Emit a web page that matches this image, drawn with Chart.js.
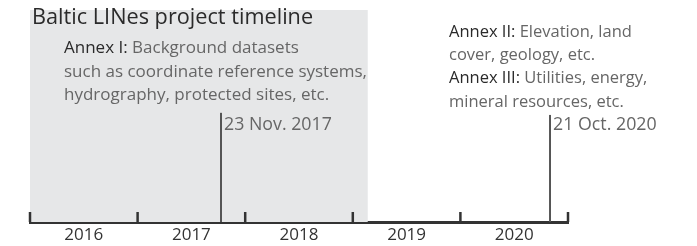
<!DOCTYPE html>
<html>
<head>
<meta charset="utf-8">
<script src="https://cdn.jsdelivr.net/npm/chart.js@4.4.1/dist/chart.umd.min.js"></script>
<style>
  html, body { margin: 0; padding: 0; background: #fff; }
  canvas { display: block; }
</style>
</head>
<body>
<canvas id="timeline" width="697" height="246"></canvas>
<script>
// Timeline data (decimal years)
const yearLabels = ['2016', '2017', '2018', '2019', '2020'];
const tickYears = [2016, 2017, 2018, 2019, 2020, 2021];
const projectSpan = [2016, 2019.14]; // shaded project period
const milestoneDates = [2017.775, 2020.833];
const milestoneLabels = ['23 Nov. 2017', '21 Oct. 2020'];
const milestoneHeights = [51.5, 50.5];

const FONT = '"Open Sans", "Liberation Sans", Arial, sans-serif';
const DARK = '#2a2a2a';
const GREY = '#666';

// little helper: draws "Bold part" dark then the rest grey
function drawMixed(ctx, x, y, head, rest) {
  ctx.fillStyle = DARK;
  ctx.fillText(head, x, y);
  const w = head ? ctx.measureText(head).width : 0;
  ctx.fillStyle = GREY;
  ctx.fillText(rest, x + w, y);
}

// Tick marks pointing up from the axis, plus all the notes
const timelineDecor = {
  id: 'timelineDecor',
  afterDatasetsDraw(chart) {
    const { ctx, chartArea, scales } = chart;
    const x = scales.x;
    const axisY = chartArea.bottom;

    ctx.save();
    ctx.strokeStyle = '#333';
    ctx.lineWidth = 2.5;
    tickYears.forEach(yr => {
      const px = x.getPixelForValue(yr);
      ctx.beginPath();
      ctx.moveTo(px, axisY);
      ctx.lineTo(px, axisY - 10);
      ctx.stroke();
    });

    ctx.textBaseline = 'middle';
    ctx.textAlign = 'left';

    // title
    ctx.font = '21.7px ' + FONT;
    ctx.fillStyle = DARK;
    ctx.fillText('Baltic LINes project timeline', 32, 18);

    // Annex I note
    ctx.font = '17px ' + FONT;
    drawMixed(ctx, 64, 48, 'Annex I: ', 'Background datasets');
    drawMixed(ctx, 64, 72, '', 'such as coordinate reference systems,');
    drawMixed(ctx, 64, 95, '', 'hydrography, protected sites, etc.');

    // Annex II / III note
    ctx.font = '16.5px ' + FONT;
    drawMixed(ctx, 449, 32, 'Annex II: ', 'Elevation, land');
    drawMixed(ctx, 449, 55, '', 'cover, geology, etc.');
    drawMixed(ctx, 449, 78, 'Annex III: ', 'Utilities, energy,');
    drawMixed(ctx, 449, 102, '', 'mineral resources, etc.');

    // milestone dates
    ctx.font = '17.8px ' + FONT;
    ctx.fillStyle = GREY;
    milestoneDates.forEach((d, i) => {
      ctx.fillText(milestoneLabels[i], x.getPixelForValue(d) + 3, 125);
    });
    ctx.restore();
  }
};

const datasets = [{
  type: 'line',
  order: 10, // draw the shading underneath everything
  data: [{ x: projectSpan[0], y: 100 }, { x: projectSpan[1], y: 100 }],
  backgroundColor: '#e6e7e8',
  borderWidth: 0,
  pointRadius: 0,
  fill: 'origin'
}];

milestoneDates.forEach((d, i) => {
  datasets.push({
    type: 'line',
    order: 0,
    data: [{ x: d, y: 0 }, { x: d, y: milestoneHeights[i] }],
    borderColor: '#555',
    borderWidth: 2,
    pointRadius: 0,
    fill: false
  });
});

new Chart(document.getElementById('timeline'), {
  type: 'line',
  data: { datasets },
  options: {
    responsive: false,
    animation: false,
    layout: { padding: { left: 30, right: 129, top: 10, bottom: 0 } },
    plugins: { legend: { display: false }, tooltip: { enabled: false } },
    scales: {
      x: {
        type: 'linear',
        min: tickYears[0],
        max: tickYears[tickYears.length - 1],
        grid: { display: false, drawTicks: false },
        border: { display: true, color: '#333', width: 3 },
        afterBuildTicks: s => { s.ticks = yearLabels.map((_, i) => ({ value: tickYears[i] + 0.5 })); },
        afterFit: s => { s.height = 24; },
        ticks: {
          autoSkip: false,
          maxRotation: 0,
          padding: 3,
          color: '#333',
          font: { family: FONT, size: 17 },
          callback: (v, i) => yearLabels[i]
        }
      },
      y: { display: false, min: 0, max: 100 }
    }
  },
  plugins: [timelineDecor]
});
</script>
</body>
</html>
